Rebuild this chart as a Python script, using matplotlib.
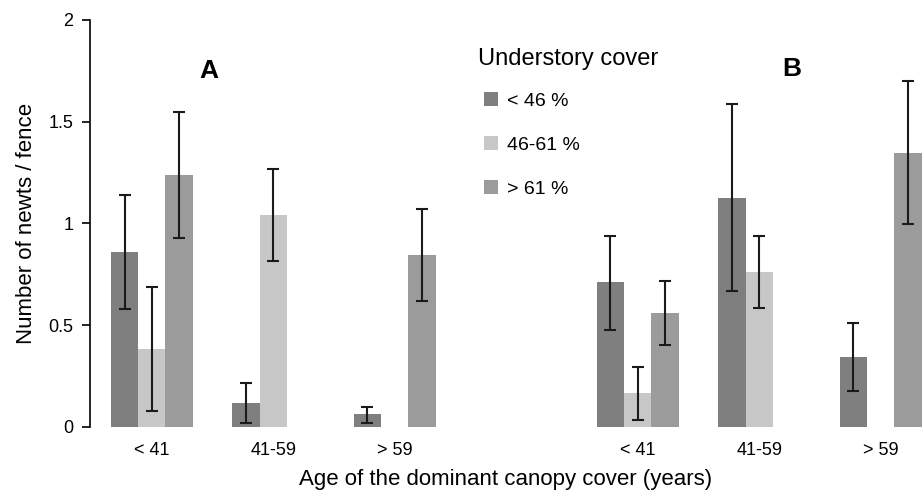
import numpy as np
import matplotlib
matplotlib.use("Agg")
import matplotlib.pyplot as plt

plt.rcParams['font.family'] = ['Liberation Sans', 'DejaVu Sans']

# age classes, repeated for panel A (left) and panel B (right)
groups = ["< 41", "41-59", "> 59", "< 41", "41-59", "> 59"]
xpos = [0, 1, 2, 4, 5, 6]
cover = ["< 46 %", "46-61 %", "> 61 %"]
nan = np.nan

mean_low = [0.86, 0.115, 0.06, 0.71, 1.125, 0.345]
upper_low = [1.14, 0.213, 0.098, 0.94, 1.586, 0.512]
lower_low = [0.579, 0.02, 0.016, 0.476, 0.667, 0.177]

mean_mid = [0.384, 1.041, nan, 0.164, 0.759, nan]
upper_mid = [0.689, 1.269, nan, 0.295, 0.94, nan]
lower_mid = [0.079, 0.813, nan, 0.033, 0.584, nan]

mean_high = [1.238, nan, 0.846, 0.558, nan, 1.345]
upper_high = [1.55, nan, 1.072, 0.718, nan, 1.699]
lower_high = [0.927, nan, 0.62, 0.403, nan, 0.997]

colors = ['#7f7f7f', '#c6c7c6', '#9a9b9a']

fig = plt.figure(figsize=(9.22, 4.9), dpi=100)
ax = fig.add_axes([90 / 922, 1 - 426.7 / 490, 1 - 90 / 922, (426.7 - 20) / 490])

w = 0.224
series = [(mean_low, lower_low, upper_low), (mean_mid, lower_mid, upper_mid),
          (mean_high, lower_high, upper_high)]
x = np.array(xpos, dtype=float)
for i, (m, lo, hi) in enumerate(series):
    m = np.array(m); lo = np.array(lo); hi = np.array(hi)
    ok = ~np.isnan(m)
    xi = x[ok] + (i - 1) * w
    ax.bar(xi, m[ok], width=w, color=colors[i], label=cover[i], zorder=1)
    ax.errorbar(xi, m[ok], yerr=[m[ok] - lo[ok], hi[ok] - m[ok]], fmt='none',
                ecolor='#1a1a1a', elinewidth=1.5, capsize=4, capthick=1.5, zorder=2)

ax.set_xlim(-0.508, 6.34)
ax.set_ylim(0, 2)
ax.set_yticks([0, 0.5, 1, 1.5, 2])
ax.set_yticklabels(["0", "0.5", "1", "1.5", "2"])
ax.set_xticks(xpos)
ax.set_xticklabels(groups)
ax.tick_params(axis='x', length=0, pad=11, labelsize=13)
ax.tick_params(axis='y', length=6, width=1.2, labelsize=13, pad=6, direction='out')

for s in ['top', 'right', 'bottom']:
    ax.spines[s].set_visible(False)
ax.spines['left'].set_linewidth(1.2)

ax.set_xlabel("Age of the dominant canopy cover (years)", fontsize=16, labelpad=7)
ax.set_ylabel("Number of newts / fence", fontsize=16, labelpad=8)

ax.text(0.47, 1.75, "A", fontsize=19, fontweight='bold', ha='center', va='center')
ax.text(5.27, 1.76, "B", fontsize=19, fontweight='bold', ha='center', va='center')

ax.text(2.685, 1.81, "Understory cover", fontsize=17, ha='left', va='center')
ax.legend(frameon=False, loc='upper left', bbox_to_anchor=(0.4736, 0.8226),
          fontsize=14, handlelength=0.72, handleheight=0.72, labelspacing=1.35,
          handletextpad=0.46, borderaxespad=0, borderpad=0)

fig.savefig("out.png", dpi=100)
